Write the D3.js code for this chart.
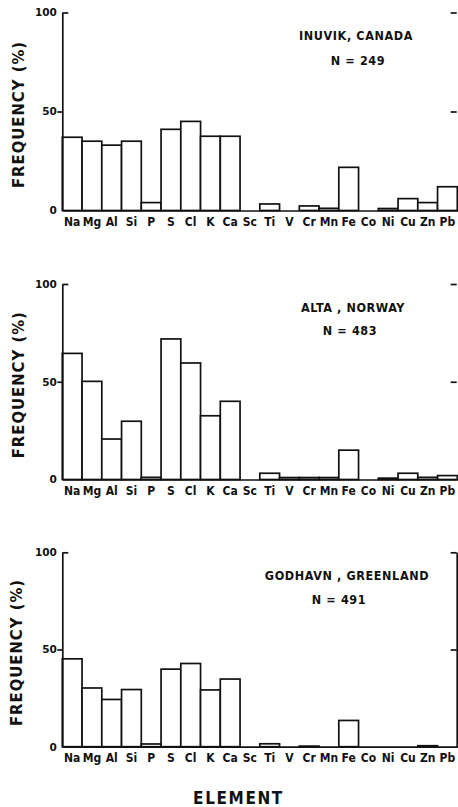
<!DOCTYPE html>
<html>
<head>
<meta charset="utf-8">
<script src="https://cdn.jsdelivr.net/npm/d3@7/dist/d3.min.js"></script>
<style>
  html, body { margin: 0; padding: 0; background: #fff; }
  svg { display: block; }
  .lbl { font-family: "DejaVu Sans Condensed", "DejaVu Sans", sans-serif; font-weight: bold; fill: #111; }
</style>
</head>
<body>
<svg id="chart" width="458" height="807"></svg>
<script>
// Elements analysed (x categories)
const elements = ["Na","Mg","Al","Si","P","S","Cl","K","Ca","Sc","Ti","V","Cr","Mn","Fe","Co","Ni","Cu","Zn","Pb"];

// Frequency of occurrence (%) of each element, per station
const inuvik  = [37, 35, 33, 35, 4, 41, 45, 37.5, 37.5, 0, 3.3, 0, 2.3, 1.1, 21.8, 0, 1, 6, 4, 12];
const alta    = [64.5, 50.2, 20.7, 29.8, 1.1, 71.9, 59.6, 32.6, 40, 0, 3.2, 1, 1, 1, 15, 0, 0.7, 3.2, 1.1, 2];
const godhavn = [45.2, 30.2, 24.3, 29.4, 1.4, 39.9, 42.8, 29.2, 34.8, 0, 1.5, 0, 0.3, 0, 13.5, 0, 0, 0, 0.5, 0];

const stations = ["INUVIK, CANADA", "ALTA , NORWAY", "GODHAVN , GREENLAND"];
const counts = ["N = 249", "N = 483", "N = 491"];
const yTicks = [0, 50, 100];

const svg = d3.select("#chart");
const ink = "#111";
const sw = 1.7;

// Vertical placement of each panel: value 100 at top, 0 at base
const panels = [
  { data: inuvik,  top: 12.5,  base: 210.5, titleY: 40,  nY: 65,  titleX: 356, nX: 358, rightLine: false },
  { data: alta,    top: 284,   base: 479.5, titleY: 312, nY: 335, titleX: 353, nX: 350, rightLine: false },
  { data: godhavn, top: 552.3, base: 746.7, titleY: 580, nY: 604, titleX: 347, nX: 339, rightLine: true }
];

const x = d3.scaleBand().domain(elements).range([62.3, 457.3]).padding(0);

panels.forEach((p, i) => {
  const g = svg.append("g");
  const y = d3.scaleLinear().domain([0, 100]).range([p.base, p.top]);
  const rows = elements.map((e, k) => ({ e, v: p.data[k] })).filter(d => d.v > 0);

  // Bars
  g.selectAll("rect.bar").data(rows).join("rect")
    .attr("class", "bar")
    .attr("x", d => x(d.e))
    .attr("y", d => y(d.v))
    .attr("width", x.bandwidth())
    .attr("height", d => y(0) - y(d.v))
    .attr("fill", "#fff")
    .attr("stroke", ink)
    .attr("stroke-width", sw);

  // Left axis
  const ya = g.append("g").attr("transform", `translate(${x.range()[0]},0)`)
    .call(d3.axisLeft(y).tickValues(yTicks).tickSize(5).tickSizeOuter(0).tickPadding(0.5));
  ya.select(".domain").attr("stroke", ink).attr("stroke-width", sw);
  ya.selectAll(".tick line").attr("stroke", ink).attr("stroke-width", sw)
    .attr("x2", d => d === 100 ? 6 : (d === 0 ? 0 : -5));
  ya.selectAll(".tick text").attr("class", "lbl").style("font-size", "10.5px")
    .style("font-family", "'DejaVu Sans', sans-serif").attr("fill", ink);

  // Right axis ticks
  const xr = x.range()[1] - 0.6;
  const ra = g.append("g").attr("transform", `translate(${xr},0)`)
    .call(d3.axisRight(y).tickValues([50, 100]).tickSize(-6).tickSizeOuter(0).tickFormat(""));
  ra.select(".domain").attr("stroke", p.rightLine ? ink : "none").attr("stroke-width", sw);
  ra.selectAll(".tick line").attr("stroke", ink).attr("stroke-width", sw);

  // Bottom axis with element names
  const xa = g.append("g").attr("transform", `translate(0,${p.base})`)
    .call(d3.axisBottom(x).tickSize(0).tickSizeOuter(0).tickPadding(6.5));
  xa.select(".domain").attr("stroke", ink).attr("stroke-width", sw);
  xa.selectAll(".tick text").attr("class", "lbl").style("font-size", "12px").attr("fill", ink);

  // Y axis title
  const cy = (p.top + p.base) / 2 + 3;
  svg.append("text").attr("class", "lbl")
    .attr("transform", `translate(${i === 2 ? 21.5 : 23.5},${cy}) rotate(-90)`)
    .attr("text-anchor", "middle")
    .style("font-size", "16.5px")
    .style("letter-spacing", "1px")
    .text("FREQUENCY (%)");

  // Station name and sample count
  svg.append("text").attr("class", "lbl")
    .attr("x", p.titleX).attr("y", p.titleY)
    .attr("text-anchor", "middle")
    .style("font-size", "12.5px").style("letter-spacing", "0.6px")
    .text(stations[i]);
  svg.append("text").attr("class", "lbl")
    .attr("x", p.nX).attr("y", p.nY)
    .attr("text-anchor", "middle")
    .style("font-size", "12.5px").style("letter-spacing", "0.6px")
    .text(counts[i]);
});

// Shared x-axis title
svg.append("text").attr("class", "lbl")
  .attr("x", 238.5).attr("y", 804)
  .attr("text-anchor", "middle")
  .style("font-size", "17px")
  .style("letter-spacing", "1.6px")
  .text("ELEMENT");
</script>
</body>
</html>
